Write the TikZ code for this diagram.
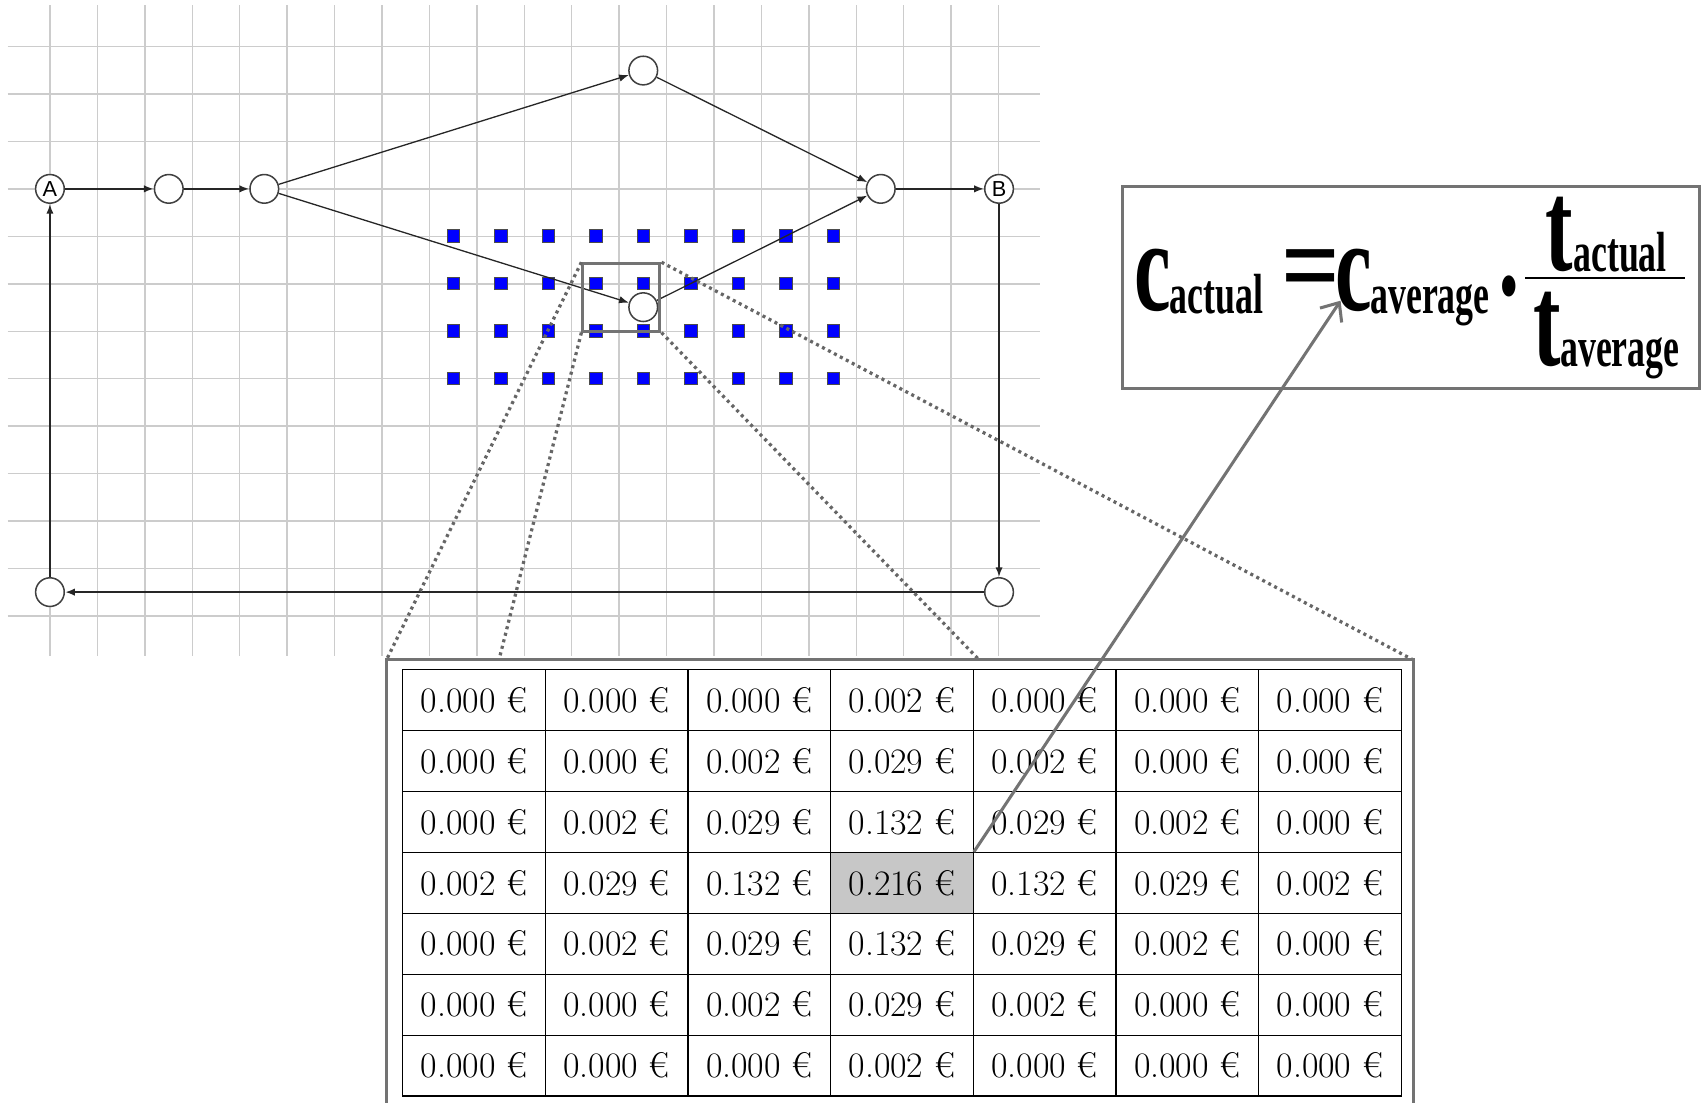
\documentclass[tikz,border=0pt]{standalone}
\usepackage{fontspec}
\usepackage{graphicx}
\usetikzlibrary{arrows.meta}
\newfontfamily\sansf{Liberation Sans}
\newfontfamily\fxf{Liberation Serif}
\newcommand{\fxt}[2]{{\fxf\bfseries\fontsize{#1}{#1}\selectfont\scalebox{1}[1.58]{#2}}}
\begin{document}
\begin{tikzpicture}[x=0.5pt,y=-0.5pt,
  gridline/.style={draw=black!20, line width=0.65pt},
  vtx/.style={circle, draw=black!75, fill=white, line width=0.7pt, minimum size=13.2pt, inner sep=0pt, font=\sansf\fontsize{10}{10}\selectfont},
  sq/.style={rectangle, draw=black!70, fill=blue, line width=0.35pt, minimum size=5.85pt, inner sep=0pt},
  edge/.style={draw=black!85, line width=0.6pt, -{Latex[length=4.5pt,width=3.4pt]}},
  edgeb/.style={edge, line width=0.85pt},
  zoomline/.style={draw=black!60, line width=1.5pt, dash pattern=on 1.4pt off 1.7pt},
  gbox/.style={draw=black!55, line width=1.4pt},
  cell/.style={rectangle, draw=black, line width=0.5pt, minimum width=65.71pt, minimum height=28.05pt, inner sep=0pt, font=\fontsize{16.5}{17}\selectfont},
  ftxt/.style={inner sep=0pt, anchor=base west},
]
\useasboundingbox (0,0) rectangle (1568,1016);
% grid
\foreach \i in {0,...,20} \draw[gridline] ({46+43.7*\i},5) -- ({46+43.7*\i},604);
\foreach \j in {0,...,12} \draw[gridline] (7,{43+43.7*\j}) -- (958,{43+43.7*\j});
% blue squares
\foreach \k in {0,...,8} \foreach \j in {0,...,3}
  \node[sq] (sq-\k-\j) at ({417.6+43.76*\k},{217.4+43.7*\j}) {};
% vertices
\node[vtx] (A) at (46,174) {A};
\node[vtx] (n1) at (155.5,174) {};
\node[vtx] (n2) at (243.5,174) {};
\node[vtx] (top) at (592.6,65) {};
\node[vtx] (mid) at (592.6,283) {};
\node[vtx] (R) at (811.4,174) {};
\node[vtx] (B) at (920.4,174) {B};
\node[vtx] (BR) at (920.4,545.5) {};
\node[vtx] (BL) at (46,545.5) {};
% edges
\draw[edgeb] (A) -- (n1);
\draw[edgeb] (n1) -- (n2);
\draw[edge] (n2) -- (top);
\draw[edge] (n2) -- (mid);
\draw[edge] (top) -- (R);
\draw[edge] (mid) -- (R);
\draw[edgeb] (R) -- (B);
\draw[edgeb, line width=1.05pt] (B) -- (BR);
\draw[edgeb, line width=1.25pt] (BR) -- (BL);
\draw[edgeb, line width=1.05pt] (BL) -- (A);
% zoom rectangle
\node[gbox, rectangle, minimum width=35.5pt, minimum height=31pt, inner sep=0pt] (zr) at (572.5,274) {};
% frame corners
\coordinate (zfnw) at (356,608);
\coordinate (zfne) at (1302,608);
\coordinate (zfsw) at (356,1020);
\coordinate (zfse) at (1302,1020);
\draw[zoomline] (zr.north west) -- (zfnw);
\draw[zoomline] (zr.south west) -- (zfsw);
\draw[zoomline] (zr.south east) -- (zfse);
\draw[zoomline] (zr.north east) -- (zfne);
\draw[gbox, fill=white] (zfnw) rectangle (zfse);
% table
\foreach \row [count=\r] in {
  {0.000,0.000,0.000,0.002,0.000,0.000,0.000},
  {0.000,0.000,0.002,0.029,0.002,0.000,0.000},
  {0.000,0.002,0.029,0.132,0.029,0.002,0.000},
  {0.002,0.029,0.132,0.216,0.132,0.029,0.002},
  {0.000,0.002,0.029,0.132,0.029,0.002,0.000},
  {0.000,0.000,0.002,0.029,0.002,0.000,0.000},
  {0.000,0.000,0.000,0.002,0.000,0.000,0.000}} {
  \foreach \v [count=\c] in \row {
    \pgfmathtruncatemacro\shade{(\r==4 && \c==4) ? 22 : 0}
    \node[cell, fill=black!\shade] (t-\r-\c) at ({371+131.43*(\c-0.5)},{617+56.1*(\r-0.5)}) {\v\ €};
  }
}
% formula box
\node[gbox, rectangle, minimum width=265.75pt, minimum height=93pt, inner sep=0pt] (fbox) at (1299.75,264.5) {};
\node[ftxt] (fc1) at (1045,286) {\fxt{38}{c}};
\node[ftxt] (fa1) at (1077,289) {\fxt{16.5}{actual}};
\node[ftxt] (feq) at (1180,281) {{\fxf\bfseries\fontsize{38}{38}\selectfont\scalebox{1.25}[1.45]{=}}};
\node[ftxt] (fc2) at (1230,286) {\fxt{38}{c}};
\node[ftxt] (fa2) at (1262,289) {\fxt{16.5}{average}};
\node[ftxt] (fdt) at (1377,304) {\fxt{38}{·}};
\coordinate (fb1) at (1405,256);
\coordinate (fb2) at (1552,256);
\draw[line width=0.95pt] (fb1) -- (fb2);
\node[ftxt] (ft1) at (1423,249) {\fxt{38}{t}};
\node[ftxt] (fa3) at (1449,250) {\fxt{16.5}{actual}};
\node[ftxt] (ft2) at (1412,337) {\fxt{38}{t}};
\node[ftxt] (fa4) at (1437,338) {\fxt{16.5}{average}};
% arrow from cell to formula
\coordinate (arrtip) at (1235,277);
\draw[draw=black!55, line width=1.4pt, -{Straight Barb[length=7pt,width=12pt]}] (t-4-4.north east) -- (arrtip);
\end{tikzpicture}
\end{document}
